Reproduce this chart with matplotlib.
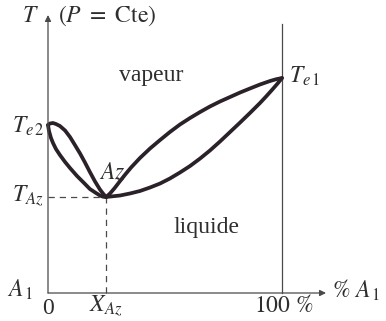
import matplotlib
matplotlib.use("Agg")
import matplotlib.pyplot as plt

plt.rcParams['mathtext.fontset'] = 'stix'
plt.rcParams['font.family'] = ['Liberation Serif', 'DejaVu Serif']

# ---- data (composition in % A1, temperature in arbitrary units) ----
T_e2 = 168
T_e1 = 215
X_Az = 24.8
T_Az = 96

left_vap_x = [0, 0.85, 2.1, 3.4, 5.1, 7.3, 9.4, 11.5, 13.7, 15.8, 17.9, 20.1, 22.2, 23.5, 24.8]
left_vap_T = [168, 169.5, 170, 169, 167, 162.5, 156, 148, 139.5, 130.5, 121, 111.5, 103.5, 99.5, 96]
left_liq_x = [0, 0.43, 1.28, 2.14, 3.4, 5.1, 7.3, 9.4, 12.4, 15.4, 17.9, 20.5, 22.2, 23.5, 24.8]
left_liq_T = [168, 162, 155, 150, 144, 138, 131, 125, 117, 110, 104, 100, 97.5, 96.3, 96]

right_vap_x = [24.8, 26.5, 28.5, 30.8, 33.0, 35.5, 39.3, 43.6, 47.9, 52.1, 56.4, 60.7, 65.0,
               69.2, 73.5, 77.8, 82.1, 86.3, 90.6, 94.9, 97.4, 100]
right_vap_T = [96, 99.5, 105, 112, 118.5, 125.5, 135, 144.5, 153, 161, 168.5, 175, 181,
               186.5, 191.5, 196, 200.5, 204.5, 208.5, 212, 213.7, 215]
right_liq_x = [24.8, 30.8, 35.0, 39.3, 43.6, 47.9, 52.1, 56.4, 60.7, 65.0, 69.2, 73.5,
               77.8, 82.1, 86.3, 90.6, 93.2, 95.7, 98.3, 100]
right_liq_T = [96, 97.5, 99.5, 102, 105.5, 109.5, 114.5, 120.5, 127, 134.5, 142.5, 151.5,
               161, 170.5, 180, 190, 196.5, 203, 210, 215]

# ---- figure: pixel-aligned data frame ----
W, H = 386, 321
X0PX, Y0PX, PXPERPCT = 48, 293, 2.34
fig = plt.figure(figsize=(W / 100, H / 100), dpi=100)
ax = fig.add_axes([0, 0, 1, 1])
ax.set_xlim(-X0PX / PXPERPCT, (W - X0PX) / PXPERPCT)
ax.set_ylim(Y0PX - H, Y0PX)
ax.axis('off')

def px(xp):
    return (xp - X0PX) / PXPERPCT

def py(yp):
    return Y0PX - yp

axis_col = '#4a4a4a'
curve_col = '#2b2129'
text_col = '#2e2e2e'

# axes with arrows
ax.annotate('', xy=(0, py(15)), xytext=(0, 0),
            arrowprops=dict(arrowstyle='-|>', color=axis_col, lw=0.9,
                            mutation_scale=9, shrinkA=0, shrinkB=0))
ax.annotate('', xy=(px(326), 0), xytext=(0, 0),
            arrowprops=dict(arrowstyle='-|>', color=axis_col, lw=0.9,
                            mutation_scale=9, shrinkA=0, shrinkB=0))
# 100 % vertical line
ax.plot([100, 100], [0, py(24)], color=axis_col, lw=0.9)

# dashed guides
ax.plot([0, X_Az], [T_Az, T_Az], color=axis_col, lw=0.9, dashes=(5, 4))
ax.plot([X_Az, X_Az], [0, T_Az], color=axis_col, lw=0.9, dashes=(5, 4))

# curves
for xs, ts in [(left_vap_x, left_vap_T), (left_liq_x, left_liq_T),
               (right_vap_x, right_vap_T), (right_liq_x, right_liq_T)]:
    ax.plot(xs, ts, color=curve_col, lw=2.7, solid_joinstyle='round',
            solid_capstyle='round')

fs = 17
ax.text(px(30), py(16), r'$T$', fontsize=fs, color=text_col, ha='center', va='center')
ax.text(px(58), py(16), r'$(P\ =\ \mathrm{Cte})$', fontsize=fs, color=text_col,
        ha='left', va='center')
ax.text(px(151), py(75), 'vapeur', fontsize=fs, color=text_col, ha='center', va='center')
ax.text(px(206), py(227), 'liquide', fontsize=fs, color=text_col, ha='center', va='center')
ax.text(px(112), py(173), r'$Az$', fontsize=fs, color=text_col, ha='center', va='center')
ax.text(px(44), py(126), r'$T_{e\,2}$', fontsize=fs, color=text_col, ha='right', va='center')
ax.text(px(44), py(196), r'$T_{Az}$', fontsize=fs, color=text_col, ha='right', va='center')
ax.text(px(289), py(76), r'$T_{e\,1}$', fontsize=fs, color=text_col, ha='left', va='center')
ax.text(px(7), py(290), r'$A_{\,1}$', fontsize=fs, color=text_col, ha='left', va='center')
ax.text(px(48), py(308), '0', fontsize=fs, color=text_col, ha='center', va='center')
ax.text(px(106), py(306), r'$X_{Az}$', fontsize=fs, color=text_col, ha='center', va='center')
ax.text(px(284), py(306), r'$100\ \%$', fontsize=fs, color=text_col, ha='center', va='center')
ax.text(px(332), py(290), r'$\%\ A_{\,1}$', fontsize=fs, color=text_col, ha='left', va='center')

fig.savefig('out.png', dpi=100)
